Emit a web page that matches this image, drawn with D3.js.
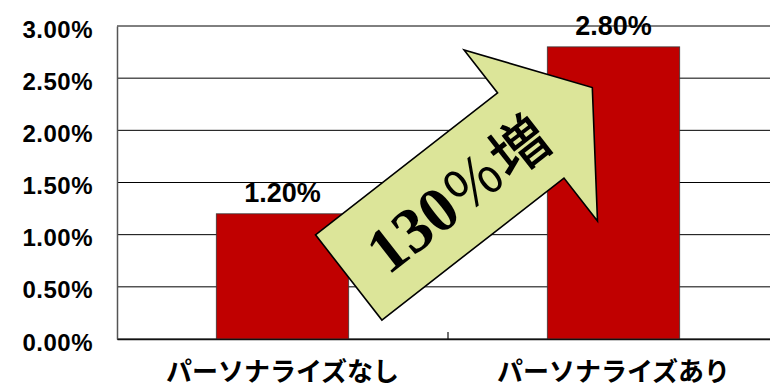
<!DOCTYPE html>
<html>
<head>
<meta charset="utf-8">
<script src="https://cdn.jsdelivr.net/npm/d3@7"></script>
<style>
  body { margin: 0; background: #fff; }
  svg { display: block; }
</style>
</head>
<body>
<svg id="chart" width="770" height="387"></svg>
<script>
// Conversion rate with and without personalisation
const categories = ["パーソナライズなし", "パーソナライズあり"];
const rates = [1.20, 2.80];
const yTicks = [0, 0.5, 1, 1.5, 2, 2.5, 3];
const growthParts = ["130", "％", "増"];

const svg = d3.select("#chart");
const plot = { left: 117, right: 779, top: 26, bottom: 339 };

const x = d3.scaleBand().domain(categories).range([plot.left, plot.right]);
const y = d3.scaleLinear().domain([0, 3]).range([plot.bottom, plot.top]);
const barW = x.bandwidth() * 0.4;
const pct = d => d.toFixed(2) + "%";

// horizontal gridlines
svg.append("g")
  .selectAll("line")
  .data(yTicks)
  .join("line")
  .attr("x1", plot.left).attr("x2", plot.right)
  .attr("y1", d => y(d)).attr("y2", d => y(d))
  .attr("stroke", "#000")
  .attr("stroke-width", 1);

// value axis
const yAxis = svg.append("g")
  .attr("transform", `translate(${plot.left},0)`)
  .call(d3.axisLeft(y).tickValues(yTicks).tickSize(0).tickSizeOuter(0).tickPadding(24).tickFormat(pct));
yAxis.select(".domain").attr("stroke", "#555").attr("stroke-width", 1.5);
yAxis.selectAll("text")
  .attr("dy", 11)
  .attr("fill", "#000")
  .style("font-family", "'Liberation Sans', Arial, sans-serif")
  .style("font-weight", "bold")
  .style("font-size", "24px")
  .style("letter-spacing", "0.5px");

// bars
svg.append("g")
  .selectAll("rect")
  .data(rates)
  .join("rect")
  .attr("x", (d, i) => x(categories[i]) + (x.bandwidth() - barW) / 2)
  .attr("y", d => y(d))
  .attr("width", barW)
  .attr("height", d => y(0) - y(d))
  .attr("fill", "#c00000")
  .attr("stroke", "#3a3a3a")
  .attr("stroke-width", 0.8);

// category axis
const xAxis = svg.append("g")
  .attr("transform", `translate(0,${plot.bottom})`)
  .call(d3.axisBottom(x).tickSize(0).tickSizeOuter(0));
xAxis.select(".domain").attr("stroke", "#111").attr("stroke-width", 1.5);
xAxis.selectAll("text")
  .attr("y", 42)
  .attr("dy", 0)
  .attr("fill", "#000")
  .style("font-family", "'Noto Sans CJK JP', sans-serif")
  .style("font-weight", "bold")
  .style("font-size", "26px");

// divider tick between the two categories
svg.append("line")
  .attr("x1", x(categories[1])).attr("x2", x(categories[1]))
  .attr("y1", plot.bottom).attr("y2", plot.bottom - 7)
  .attr("stroke", "#111")
  .attr("stroke-width", 1.2);

// value labels above bars
svg.append("g")
  .selectAll("text")
  .data(rates)
  .join("text")
  .attr("x", (d, i) => x(categories[i]) + x.bandwidth() / 2)
  .attr("y", d => y(d) - 12)
  .attr("text-anchor", "middle")
  .attr("fill", "#000")
  .style("font-family", "'Liberation Sans', Arial, sans-serif")
  .style("font-weight", "bold")
  .style("font-size", "27px")
  .text(pct);

// growth arrow from the first bar towards the second
const tail = [x(categories[0]) + (x.bandwidth() + barW) / 2, y(0.59)];
const tip = [x(categories[1]) + (x.bandwidth() - barW) / 2 + 45, y(2.41)];
const shaftW = 108, headW = 217, headL = 78;
const dx = tip[0] - tail[0], dy = tip[1] - tail[1];
const len = Math.hypot(dx, dy);
const u = [dx / len, dy / len];
const n = [-u[1], u[0]];
const at = (along, side) => [tail[0] + u[0] * along + n[0] * side, tail[1] + u[1] * along + n[1] * side];
const base = len - headL;
const arrowPts = [
  at(0, -shaftW / 2),
  at(base, -shaftW / 2),
  at(base, -headW / 2),
  at(len, 0),
  at(base, headW / 2),
  at(base, shaftW / 2),
  at(0, shaftW / 2)
];
svg.append("path")
  .attr("d", d3.line()(arrowPts) + "Z")
  .attr("fill", "#dce599")
  .attr("stroke", "#000")
  .attr("stroke-width", 1.6)
  .attr("stroke-linejoin", "miter");

const angle = Math.atan2(dy, dx) * 180 / Math.PI;
const labelPos = at(138, 0);
const growth = svg.append("text")
  .attr("transform", `translate(${labelPos[0]},${labelPos[1]}) rotate(${angle})`)
  .attr("text-anchor", "middle")
  .attr("y", 23)
  .attr("fill", "#000");
growth.append("tspan")
  .style("font-family", "'Liberation Serif', 'Times New Roman', serif")
  .style("font-weight", "bold")
  .style("font-size", "64px")
  .text(growthParts[0]);
growth.append("tspan")
  .style("font-family", "'Noto Sans CJK JP', sans-serif")
  .style("font-weight", "400")
  .style("font-size", "58px")
  .text(growthParts[1]);
growth.append("tspan")
  .style("font-family", "'Noto Sans CJK JP', sans-serif")
  .style("font-weight", "500")
  .style("font-size", "58px")
  .text(growthParts[2]);
</script>
</body>
</html>
